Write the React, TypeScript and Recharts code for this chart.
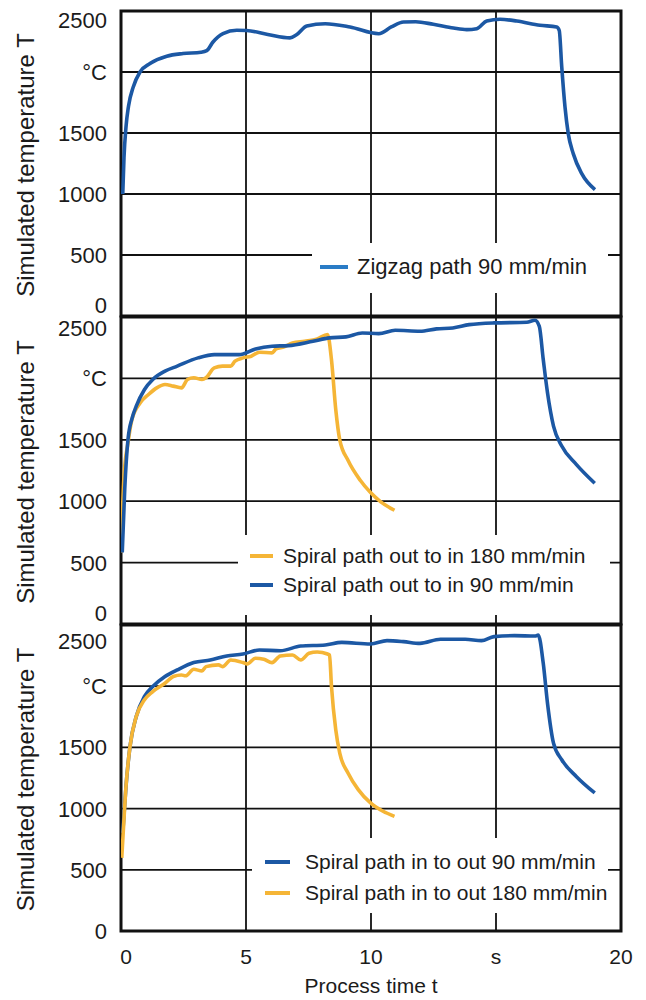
import {
  LineChart,
  Line,
  XAxis,
  YAxis,
  CartesianGrid,
  Legend,
  ReferenceArea,
} from "recharts";

const timeTicks = [0, 5, 10, 15, 20];
const timeTickLabels = ["0", "5", "10", "s", "20"];
const tempTicks = [0, 500, 1000, 1500, 2000, 2500];
const tempTickLabels = ["0", "500", "1000", "1500", "°C", "2500"];

// zigzag path, 90 mm/min (top panel)
const zigzag90Time = [
  0.07, 0.12, 0.2, 0.3, 0.49, 0.76, 1.16, 1.83, 2.48, 3.2, 3.43, 3.68, 4.08, 4.63, 5.03, 5.87, 6.76,
  7.02, 7.43, 8.17, 9.16, 10.31, 10.81, 11.3, 11.79, 12.49, 13.3, 13.83, 14.23, 14.63, 15.16, 15.83,
  16.76, 17.43, 17.53, 17.63, 17.76, 17.89, 18.09, 18.43, 18.96,
];
const zigzag90Temp = [
  1000, 1300, 1550, 1720, 1877, 2000, 2069, 2129, 2151, 2162, 2175, 2246, 2315, 2342, 2340, 2308, 2280,
  2305, 2377, 2396, 2369, 2314, 2369, 2410, 2412, 2391, 2360, 2347, 2355, 2418, 2432, 2418,
  2383, 2369, 2340, 2041, 1713, 1495, 1331, 1167, 1036,
];

// spiral out to in (middle panel)
const outIn90Time = [
  0.05, 0.15, 0.28, 0.45, 0.61, 0.94, 1.27, 1.76, 2.25, 3.08, 3.73, 4.72, 5.38, 6.04, 6.69, 7.68, 8.34,
  9.0, 9.65, 10.31, 10.97, 11.96, 12.62, 13.27, 13.93, 14.92, 16.23, 16.56, 16.73, 16.89, 17.06, 17.3,
  17.63, 18.21, 18.95,
];
const outIn90Temp = [
  582, 1100, 1503, 1680, 1774, 1910, 1991, 2059, 2100, 2167, 2194, 2194, 2240, 2262, 2267, 2303, 2330,
  2338, 2370, 2365, 2392, 2384, 2403, 2411, 2438, 2452, 2457, 2473, 2425, 2154, 1883, 1612,
  1449, 1300, 1146,
];
const outIn180Time = [
  0.0, 0.12, 0.28, 0.44, 0.77, 1.1, 1.43, 1.76, 2.09, 2.42, 2.66, 2.91, 3.24, 3.4, 3.73, 4.06, 4.39,
  4.56, 4.88, 5.21, 5.54, 6.04, 6.2, 6.53, 6.86, 7.35, 7.85, 8.26, 8.42, 8.59, 8.75, 9.08, 9.57, 9.98,
  10.39, 10.94,
];
const outIn180Temp = [
  582, 1205, 1476, 1666, 1801, 1869, 1923, 1950, 1937, 1923, 1991, 2005, 1991, 2005, 2086, 2100, 2100,
  2140, 2167, 2181, 2213, 2208, 2240, 2257, 2289, 2303, 2322, 2357, 2150, 1747, 1500, 1333, 1170, 1070,
  995, 926,
];

// spiral in to out (bottom panel)
const inOut90Time = [
  0.07, 0.2, 0.36, 0.61, 0.94, 1.27, 1.76, 2.25, 2.91, 3.57, 4.23, 4.88, 5.54, 6.37, 7.19, 8.17, 8.83,
  9.98, 10.64, 11.3, 11.96, 12.78, 13.77, 14.42, 14.92, 15.74, 16.56, 16.69, 16.89, 17.06, 17.3, 17.63,
  18.21, 18.95,
];
const inOut90Temp = [
  801, 1182, 1508, 1752, 1916, 1997, 2079, 2133, 2193, 2214, 2247, 2263, 2296, 2290, 2328, 2337, 2358,
  2345, 2372, 2364, 2350, 2383, 2383, 2372, 2405, 2413, 2410, 2418, 2187, 1861, 1535, 1399,
  1263, 1128,
];
const inOut180Time = [
  0.03, 0.08, 0.2, 0.36, 0.61, 0.94, 1.27, 1.76, 2.09, 2.42, 2.58, 2.91, 3.24, 3.4, 3.9, 4.06, 4.39,
  4.88, 5.05, 5.38, 5.71, 6.04, 6.37, 6.86, 7.19, 7.52, 7.85, 8.26, 8.34, 8.42, 8.59, 8.75, 9.08, 9.49,
  9.98, 10.48, 10.94,
];
const inOut180Temp = [
  598, 774, 1182, 1508, 1752, 1889, 1956, 2024, 2079, 2092, 2085, 2138, 2125, 2160, 2174, 2160, 2214,
  2193, 2182, 2228, 2220, 2193, 2247, 2255, 2214, 2269, 2280, 2263, 2255, 1997, 1644, 1453, 1291, 1155,
  1046, 978, 937,
];

const BLUE = "#1c58a4";
const LIGHT_BLUE = "#2a7cc6";
const YELLOW = "#f5b536";
const FONT = "'Liberation Sans', Arial, Helvetica, sans-serif";
const INK = "#1b1b1b";

const toPoints = (time: number[], temp: number[]) => time.map((t, i) => ({ t, T: temp[i] }));

type Series = { name: string; color: string; legendColor: string; points: { t: number; T: number }[] };

type PanelProps = {
  top: number;
  height: number;
  marginTop: number;
  marginBottom: number;
  showTime: boolean;
  series: Series[];
  shiftTop: number;
  shiftBottom: number;
  legendBox: { left: number; top: number; width: number; height: number };
  legendRows: number[];
  legendFont: number;
  iconLeft: number;
  iconWidth: number;
  textLeft: number;
};

const TempTick = (props: any) => {
  const { x, y, payload, shiftTop, shiftBottom } = props;
  const i = tempTicks.indexOf(payload.value);
  let dy = 0;
  if (payload.value === 2500) dy = shiftTop;
  if (payload.value === 0) dy = shiftBottom;
  return (
    <text x={x - 14} y={y + dy} dy="0.36em" textAnchor="end" fontSize={22} fontFamily={FONT} fill={INK}>
      {tempTickLabels[i]}
    </text>
  );
};

const TimeTick = (props: any) => {
  const { x, y, payload } = props;
  const i = timeTicks.indexOf(payload.value);
  return (
    <text x={x + (payload.value === 0 ? 5 : 0)} y={y + 33} textAnchor="middle" fontSize={21} fontFamily={FONT} fill={INK}>
      {timeTickLabels[i]}
    </text>
  );
};

const Panel = (p: PanelProps) => {
  const renderLegend = (props: any) => {
    const items = p.series.map((s) => (props.payload || []).find((it: any) => it.value === s.name) ?? { value: s.name });
    return (
      <div style={{ position: "relative", width: p.legendBox.width, height: p.legendBox.height }}>
        {items.map((it: any, i: number) => {
          const s = p.series.find((ss) => ss.name === it.value)!;
          const cy = p.legendRows[i];
          return (
            <div key={it.value}>
              <div
                style={{
                  position: "absolute",
                  left: p.iconLeft,
                  top: cy - 2,
                  width: p.iconWidth,
                  height: 4,
                  background: s.legendColor,
                }}
              />
              <div
                style={{
                  position: "absolute",
                  left: p.textLeft,
                  top: cy - 13,
                  lineHeight: "26px",
                  fontSize: p.legendFont,
                  fontFamily: FONT,
                  color: INK,
                  whiteSpace: "nowrap",
                }}
              >
                {it.value}
              </div>
            </div>
          );
        })}
      </div>
    );
  };

  const renderYLabel = (props: any) => {
    const vb = props.viewBox || { x: 0, y: 0, width: 0, height: 0 };
    const cy = vb.y + vb.height / 2 + 1.5;
    return (
      <text
        x={34}
        y={cy}
        transform={`rotate(-90 34 ${cy})`}
        textAnchor="middle"
        fontSize={24}
        fontFamily={FONT}
        fill={INK}
      >
        Simulated temperature T
      </text>
    );
  };

  const renderXLabel = (props: any) => {
    const vb = props.viewBox || { x: 0, y: 0, width: 0, height: 0 };
    return (
      <text x={vb.x + vb.width / 2} y={vb.y + 62} textAnchor="middle" fontSize={21} fontFamily={FONT} fill={INK}>
        Process time t
      </text>
    );
  };

  return (
    <div style={{ position: "absolute", left: 0, top: p.top }}>
      <LineChart
        width={646}
        height={p.height}
        margin={{ top: p.marginTop, right: 25, bottom: p.marginBottom, left: 0 }}
      >
        <CartesianGrid stroke="#111" strokeWidth={1.8} />
        <XAxis
          dataKey="t"
          type="number"
          domain={[0, 20]}
          ticks={timeTicks}
          allowDataOverflow
          hide={!p.showTime}
          height={p.showTime ? 69 : 0}
          axisLine={false}
          tickLine={false}
          tickSize={0}
          tickMargin={0}
          interval={0}
          tick={(tp: any) => <TimeTick {...tp} />}
          label={p.showTime ? { value: "Process time t", content: renderXLabel } : undefined}
        />
        <YAxis
          dataKey="T"
          type="number"
          domain={[0, 2500]}
          ticks={tempTicks}
          width={121}
          axisLine={false}
          tickLine={false}
          tickSize={0}
          tickMargin={0}
          interval={0}
          tick={(tp: any) => <TempTick {...tp} shiftTop={p.shiftTop} shiftBottom={p.shiftBottom} />}
          label={{ value: "Simulated temperature T", content: renderYLabel }}
        />
        <ReferenceArea x1={0} x2={20} y1={0} y2={2500} fill="none" stroke="#111" strokeWidth={3} />
        {p.series.map((s) => (
          <Line
            key={s.name}
            data={s.points}
            dataKey="T"
            name={s.name}
            type="monotone"
            stroke={s.color}
            strokeWidth={3.6}
            dot={false}
            activeDot={false}
            isAnimationActive={false}
          />
        ))}
        <Legend
          layout="vertical"
          align="center"
          verticalAlign="middle"
          wrapperStyle={{
            left: p.legendBox.left,
            top: p.legendBox.top,
            width: p.legendBox.width,
            height: p.legendBox.height,
            background: "#fff",
            margin: 0,
            padding: 0,
          }}
          content={renderLegend}
        />
      </LineChart>
    </div>
  );
};

export default function App() {
  return (
    <div style={{ position: "absolute", left: 0, top: 0, width: 646, height: 1000, background: "#fff" }}>
      <Panel
        top={0}
        height={320}
        marginTop={11}
        marginBottom={4}
        showTime={false}
        series={[
          { name: "Zigzag path 90 mm/min", color: BLUE, legendColor: LIGHT_BLUE, points: toPoints(zigzag90Time, zigzag90Temp) },
        ]}
        shiftTop={9}
        shiftBottom={-11}
        legendBox={{ left: 312, top: 243, width: 296, height: 50 }}
        legendRows={[24]}
        legendFont={22}
        iconLeft={8}
        iconWidth={28}
        textLeft={45}
      />
      <Panel
        top={310}
        height={320}
        marginTop={7}
        marginBottom={6}
        showTime={false}
        series={[
          { name: "Spiral path out to in 180 mm/min", color: YELLOW, legendColor: YELLOW, points: toPoints(outIn180Time, outIn180Temp) },
          { name: "Spiral path out to in 90 mm/min", color: BLUE, legendColor: BLUE, points: toPoints(outIn90Time, outIn90Temp) },
        ]}
        shiftTop={11}
        shiftBottom={-11}
        legendBox={{ left: 238, top: 225, width: 372, height: 80 }}
        legendRows={[21, 50]}
        legendFont={21}
        iconLeft={12}
        iconWidth={23}
        textLeft={45}
      />
      <Panel
        top={620}
        height={380}
        marginTop={5}
        marginBottom={0}
        showTime={true}
        series={[
          { name: "Spiral path in to out 90 mm/min", color: BLUE, legendColor: BLUE, points: toPoints(inOut90Time, inOut90Temp) },
          { name: "Spiral path in to out 180 mm/min", color: YELLOW, legendColor: YELLOW, points: toPoints(inOut180Time, inOut180Temp) },
        ]}
        shiftTop={16}
        shiftBottom={0}
        legendBox={{ left: 252, top: 218, width: 356, height: 75 }}
        legendRows={[24, 55]}
        legendFont={21}
        iconLeft={13}
        iconWidth={25}
        textLeft={53}
      />
    </div>
  );
}
